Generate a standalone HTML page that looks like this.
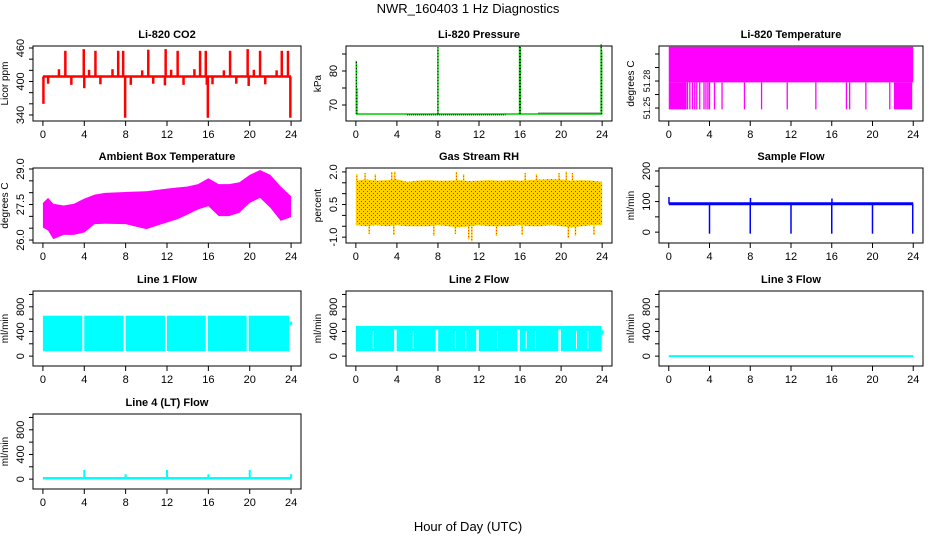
<!DOCTYPE html>
<html><head><meta charset="utf-8"><style>
body{margin:0;background:#fff}
svg{display:block;font-family:"Liberation Sans",Arial,sans-serif}
</style></head><body>
<svg id="c" width="936" height="540" xmlns="http://www.w3.org/2000/svg">
<defs>
<pattern id="rhpat" width="4" height="4" patternUnits="userSpaceOnUse">
<rect width="4" height="4" fill="#FFD000"/><rect x="1" y="1" width="1" height="1" fill="#FF2000"/><rect x="3" y="3" width="1" height="1" fill="#FF2000"/>
</pattern>
</defs>
<text x="468" y="13" text-anchor="middle" font-size="13">NWR_160403 1 Hz Diagnostics</text>
<text x="468" y="531" text-anchor="middle" font-size="13">Hour of Day (UTC)</text>
</svg>
<script>
// ---- data ----
const xTicks=[0,4,8,12,16,20,24];
const co2Base=409;
const co2SpikeHours=[2.17,3.95,5.08,7.28,7.76,10.19,11.87,13.03,15.2,15.75,18.1,19.8,21.0,23.1,23.7,1.55,4.46,6.73,9.6,12.4,14.65,17.5,20.4,22.6,0.05,7.95,15.95,23.93,0.5,2.75,4.0,5.56,8.5,10.67,11.8,13.6,15.85,16.4,18.7,19.9,21.5];
const co2SpikeVals=[455,458,455,455,455,457,458,455,455,455,455,458,455,455,455,422,421,422,420,421,422,420,421,420,360,335,335,335,396,394,388,395,394,396,393,394,394,395,396,392,395];
const presBase=67.35;
const presSpikeHours=[0.05,0.1,8.0,15.95,16.02,23.9,23.95];
const presSpikeVals=[83,75,87,87.3,87,87.8,86];
const ltTop=51.318,ltMid=51.2785,ltBot=51.2485;
const ltLowRanges=[[0,1.75],[22.1,23.9]];
const ltLines=[1.84,2.07,2.33,2.55,2.75,3.04,3.46,3.65,3.84,4.0,4.49,5.23,7.43,9.11,11.63,14.44,17.44,17.76,19.35,21.7,23.74];
const ambHours=[0,0.5,1,2,3,4,5,6,8,10,12,13,14,15,16,17,18,19,20,21,22,23,24];
const ambUpper=[27.57,27.78,27.53,27.46,27.53,27.75,27.92,27.99,28.03,28.06,28.17,28.22,28.26,28.36,28.61,28.36,28.36,28.44,28.75,28.96,28.75,28.26,27.85];
const ambLower=[26.53,26.4,26.04,26.22,26.22,26.32,26.67,26.69,26.67,26.46,26.74,26.88,27.08,27.29,27.43,27.01,27.01,27.15,27.57,27.78,27.36,26.81,26.97];
const rhHours=[0,1,2,3,4,5,6,7,8,9,10,11,12,13,14,15,16,17,18,19,20,21,22,23,24];
const rhUpper=[1.6,1.65,1.6,1.62,1.66,1.55,1.6,1.62,1.6,1.6,1.62,1.58,1.6,1.62,1.6,1.62,1.6,1.63,1.65,1.67,1.65,1.6,1.62,1.6,1.55];
const rhLower=[-0.45,-0.5,-0.45,-0.5,-0.45,-0.5,-0.5,-0.5,-0.45,-0.5,-0.55,-0.5,-0.45,-0.5,-0.5,-0.5,-0.45,-0.5,-0.5,-0.45,-0.5,-0.55,-0.5,-0.45,-0.45];
const rhSpikeHours=[0.1,0.9,1.9,3.5,3.8,9.8,10.5,16.5,17.6,19.8,20.5,21.1,1.3,3.7,7.6,9.7,11.0,11.3,13.7,16.2,20.7,21.4,23.2];
const rhSpikeVals=[1.9,1.95,1.9,2.0,2.02,2.0,1.9,1.95,1.9,1.95,2.02,1.95,-0.85,-0.9,-0.95,-0.85,-1.1,-1.2,-0.95,-0.9,-1.05,-0.95,-0.9];
const sfBase=93;
const sfSpikeHours=[0.02,4,8,12,16,20,23.95,8.02,16.02];
const sfSpikeVals=[115,-5,-5,-5,-5,-5,-5,112,110];
const l1Top=656,l1Bot=80;
const l1Gaps=[3.9,7.9,11.9,15.85,19.8];
const l2Top=490,l2Bot=80;
const l2Gaps=[3.85,7.9,11.85,15.85,19.85];
const l2Thin=[1.7,5.6,9.7,10.7,13.8,16.6,17.5,21.5,22.6];
const l3Val=0;
const l4Base=15;
const l4SpikeHours=[4,8,12,16,20,24];
const l4SpikeVals=[150,80,150,80,150,80];

// ---- helpers ----
const svg=document.getElementById('c');
const NS='http://www.w3.org/2000/svg';
function mk(tag,attrs,parent){const e=document.createElementNS(NS,tag);for(const k in attrs)e.setAttribute(k,attrs[k]);(parent||svg).appendChild(e);return e;}
const cols=[[33,268],[346,266],[659,264]];
const rows=[46,168,291,414];
function panel(r,c,title,ylab,ymin,ymax,yt,yl,name,yfs){
  const [L,W]=cols[c],T=rows[r],H=75;
  const g=mk('g',{});
  
  
  const pad=W*0.037;
  const P={g,L,T,W,H,
    x:h=>L+pad+h/24*(W-2*pad),
    y:v=>T+H-(v-ymin)/(ymax-ymin)*H};
  const t=mk('text',{x:L+W/2,y:T-8,'text-anchor':'middle','font-size':11,'font-weight':'bold'},g);
  t.textContent=title;
  
  
  P.finish=function(){
    const b=mk('rect',{x:L,y:T,width:W,height:H,fill:'none',stroke:'#000','stroke-width':1},g);
    
    
    mk('line',{x1:P.x(0),x2:P.x(24),y1:T+H,y2:T+H,stroke:'#000'},g);
    xTicks.forEach(h=>{
      mk('line',{x1:P.x(h),x2:P.x(h),y1:T+H,y2:T+H+5,stroke:'#000'},g);
      const tx=mk('text',{x:P.x(h),y:T+H+17,'text-anchor':'middle','font-size':11},g);
      tx.textContent=h;
      
      
    });
    yt.forEach(v=>{mk('line',{x1:L-4,x2:L,y1:P.y(v),y2:P.y(v),stroke:'#000'},g);});
    yl.forEach(([v,s])=>{
      const tx=mk('text',{x:L-9,y:P.y(v),'text-anchor':'middle','font-size':yfs||11,transform:`rotate(-90 ${L-9} ${P.y(v)})`},g);
      tx.textContent=s;
      
      
    });
    const yt2=mk('text',{x:L-25,y:T+H/2,'text-anchor':'middle','font-size':10,transform:`rotate(-90 ${L-25} ${T+H/2})`},g);
    yt2.textContent=ylab;
    
    
  };
  return P;
}
function vline(P,h,v1,v2,col,w,extra){return mk('line',Object.assign({x1:P.x(h),x2:P.x(h),y1:P.y(v1),y2:P.y(v2),stroke:col,'stroke-width':w},extra||{}),P.g);}
function band(P,hs,up,lo,fill){
  let d='M'+hs.map((h,i)=>P.x(h)+','+P.y(up[i])).join('L');
  for(let i=hs.length-1;i>=0;i--)d+='L'+P.x(hs[i])+','+P.y(lo[i]);
  return mk('path',{d:d+'Z',fill:fill},P.g);
}
function rng(a,b,s){const o=[];for(let v=a;v<=b+1e-9;v+=s)o.push(+v.toFixed(4));return o;}

// CO2
let P=panel(0,0,'Li-820 CO2','Licor ppm',329.2,463.6,rng(340,460,20),[[340,'340'],[400,'400'],[460,'460']],'co2');
mk('line',{x1:P.x(0),x2:P.x(24),y1:P.y(co2Base),y2:P.y(co2Base),stroke:'#f00','stroke-width':2.5},P.g);
co2SpikeHours.forEach((h,i)=>{const s=vline(P,h,co2Base,co2SpikeVals[i],'#f00',2.5);});
P.finish();

// Pressure
P=panel(0,1,'Li-820 Pressure','kPa',65.3,87.35,[70,75,80,85],[[70,'70'],[80,'80']],'pressure');
mk('line',{x1:P.x(0),x2:P.x(24),y1:P.y(presBase),y2:P.y(presBase),stroke:'#0c0','stroke-width':1.5},P.g);
mk('line',{x1:P.x(5),x2:P.x(14.6),y1:P.y(presBase-0.25),y2:P.y(presBase-0.25),stroke:'#000','stroke-width':1,'stroke-dasharray':'1 1'},P.g);
mk('line',{x1:P.x(17.8),x2:P.x(23.8),y1:P.y(presBase+0.3),y2:P.y(presBase+0.3),stroke:'#000','stroke-width':1,'stroke-dasharray':'1 1'},P.g);
presSpikeHours.forEach((h,i)=>{const s=vline(P,h,presBase,presSpikeVals[i],'#0c0',1.5);vline(P,h,presBase,presSpikeVals[i],'#000',1,{'stroke-dasharray':'1 2'});});
P.finish();

// Li temp
P=panel(0,2,'Li-820 Temperature','degrees C',51.2356,51.3189,rng(51.25,51.31,0.015),[[51.25,'51.25'],[51.28,'51.28']],'li-temp',9);
mk('rect',{x:P.x(0),y:P.y(ltTop),width:P.x(24)-P.x(0),height:P.y(ltMid)-P.y(ltTop),fill:'#f0f'},P.g);
ltLowRanges.forEach(([a,b])=>mk('rect',{x:P.x(a),y:P.y(ltMid),width:P.x(b)-P.x(a),height:P.y(ltBot)-P.y(ltMid),fill:'#f0f'},P.g));
ltLines.forEach(h=>{const s=vline(P,h,ltMid,ltBot,'#f0f',1.3);});
P.finish();

// Ambient
P=panel(1,0,'Ambient Box Temperature','degrees C',25.875,29.042,rng(26,29,0.5),[[26,'26.0'],[27.5,'27.5'],[29,'29.0']],'ambient');
const ab=band(P,ambHours,ambUpper,ambLower,'#f0f');


P.finish();

// RH
P=panel(1,1,'Gas Stream RH','percent',-1.27,2.18,rng(-1,2,0.5),[[-1,'-1.0'],[0.5,'0.5'],[2,'2.0']],'rh');
rhSpikeHours.forEach((h,i)=>{const s=vline(P,h,rhSpikeVals[i]>0?1.5:-0.4,rhSpikeVals[i],'#FFD800',1.5);vline(P,h,rhSpikeVals[i]>0?1.5:-0.4,rhSpikeVals[i],'#f20',1,{'stroke-dasharray':'1 2'});});
const rb=band(P,rhHours,rhUpper,rhLower,'url(#rhpat)');


P.finish();

// Sample flow
P=panel(1,2,'Sample Flow','ml/min',-35.5,209.7,rng(0,200,50),[[0,'0'],[100,'100'],[200,'200']],'sample-flow');
mk('line',{x1:P.x(0),x2:P.x(24),y1:P.y(sfBase),y2:P.y(sfBase),stroke:'#00f','stroke-width':3},P.g);
sfSpikeHours.forEach((h,i)=>{const s=vline(P,h,sfBase,sfSpikeVals[i],'#00f',1.5);});
P.finish();

// Line 1
P=panel(2,0,'Line 1 Flow','ml/min',-160,1056,rng(0,1000,200),[[0,'0'],[400,'400'],[800,'800']],'line1');
mk('rect',{x:P.x(0),y:P.y(l1Top),width:P.x(23.8)-P.x(0),height:P.y(l1Bot)-P.y(l1Top),fill:'#0ff'},P.g);
vline(P,24,500,560,'#0ff',2);
l1Gaps.forEach(h=>{const s=vline(P,h,l1Bot,l1Top,'#fff',2);});
P.finish();

// Line 2
P=panel(2,1,'Line 2 Flow','ml/min',-160,1056,rng(0,1000,200),[[0,'0'],[400,'400'],[800,'800']],'line2');
mk('rect',{x:P.x(0),y:P.y(l2Top),width:P.x(23.95)-P.x(0),height:P.y(l2Bot)-P.y(l2Top),fill:'#0ff'},P.g);
vline(P,24.05,350,420,'#0ff',2);
l2Gaps.forEach(h=>{const s=vline(P,h,l2Bot,l2Top-60,'#fff',2.5);});
l2Thin.forEach(h=>{const s=vline(P,h,l2Bot+40,l2Top-80,'#fff',1);});
P.finish();

// Line 3
P=panel(2,2,'Line 3 Flow','ml/min',-160,1056,rng(0,1000,200),[[0,'0'],[400,'400'],[800,'800']],'line3');
mk('line',{x1:P.x(0),x2:P.x(24),y1:P.y(l3Val),y2:P.y(l3Val),stroke:'#0ff','stroke-width':2},P.g);
P.finish();

// Line 4
P=panel(3,0,'Line 4 (LT) Flow','ml/min',-160,1056,rng(0,1000,200),[[0,'0'],[400,'400'],[800,'800']],'line4');
mk('line',{x1:P.x(0),x2:P.x(24),y1:P.y(l4Base),y2:P.y(l4Base),stroke:'#0ff','stroke-width':2.5},P.g);
l4SpikeHours.forEach((h,i)=>{const s=vline(P,h,l4Base,l4SpikeVals[i],'#0ff',2);});
P.finish();
</script>
</body></html>
